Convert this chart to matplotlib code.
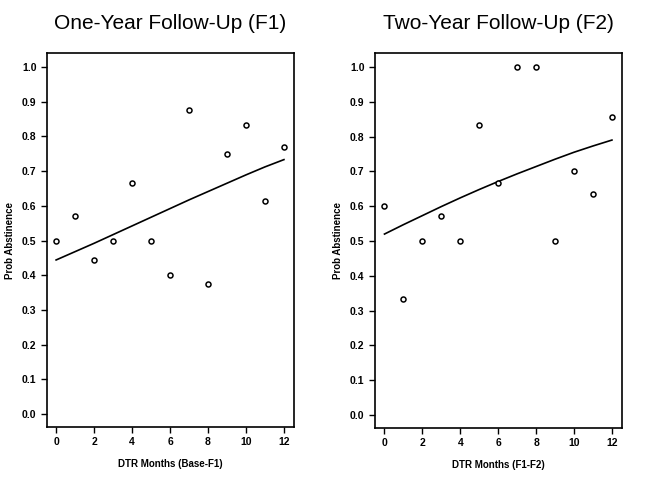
import matplotlib
matplotlib.use("Agg")
import matplotlib.pyplot as plt

plt.rcParams['font.family'] = ['Liberation Sans', 'DejaVu Sans']

months = list(range(13))

# observed proportions abstinent, one-year follow-up
f1_prob = [0.500, 0.571, 0.444, 0.500, 0.667, 0.500, 0.400,
           0.875, 0.375, 0.750, 0.833, 0.615, 0.769]
# fitted curve
f1_fit = [0.444, 0.468, 0.492, 0.517, 0.542, 0.567, 0.592,
          0.617, 0.641, 0.665, 0.689, 0.712, 0.733]

# two-year follow-up
f2_prob = [0.600, 0.333, 0.500, 0.571, 0.500, 0.833, 0.667,
           1.000, 1.000, 0.500, 0.700, 0.636, 0.857]
f2_fit = [0.520, 0.547, 0.573, 0.599, 0.624, 0.648, 0.671,
          0.693, 0.714, 0.735, 0.755, 0.773, 0.790]

titles = ["One-Year Follow-Up (F1)", "Two-Year Follow-Up (F2)"]
xlabels = ["DTR Months (Base-F1)", "DTR Months (F1-F2)"]
yticks = [0.0, 0.1, 0.2, 0.3, 0.4, 0.5, 0.6, 0.7, 0.8, 0.9, 1.0]
xticks = [0, 2, 4, 6, 8, 10, 12]

fig = plt.figure(figsize=(6.52, 4.83), dpi=100)
W, H = 652, 483
boxes = [(47, 53, 294, 427), (375, 53, 622, 428)]
data = [(f1_prob, f1_fit), (f2_prob, f2_fit)]

for i in range(2):
    x0, y0, x1, y1 = boxes[i]
    ax = fig.add_axes([x0 / W, 1 - y1 / H, (x1 - x0) / W, (y1 - y0) / H])
    prob, fit = data[i]
    ax.plot(months, fit, color='black', lw=1.2)
    ax.scatter(months, prob, s=13, facecolors='white', edgecolors='black',
               linewidths=1.1, zorder=3)
    ax.set_xlim(-0.48 if i == 0 else -0.5, 12.53)
    ax.set_ylim(-0.037, 1.04)
    ax.set_xticks(xticks)
    ax.set_yticks(yticks)
    ax.set_yticklabels(["%.1f" % v for v in yticks])
    ax.tick_params(direction='out', length=4, width=1, labelsize=7.5)
    for lab in ax.get_xticklabels() + ax.get_yticklabels():
        lab.set_fontweight('bold')
    for sp in ax.spines.values():
        sp.set_linewidth(1.2)
    ax.set_xlabel(xlabels[i], fontsize=7, fontweight='bold', labelpad=8)
    ax.set_ylabel("Prob Abstinence", fontsize=7, fontweight='bold', labelpad=5)
    ax.set_title(titles[i], fontsize=15, pad=17)

fig.savefig("out.png", dpi=100)
